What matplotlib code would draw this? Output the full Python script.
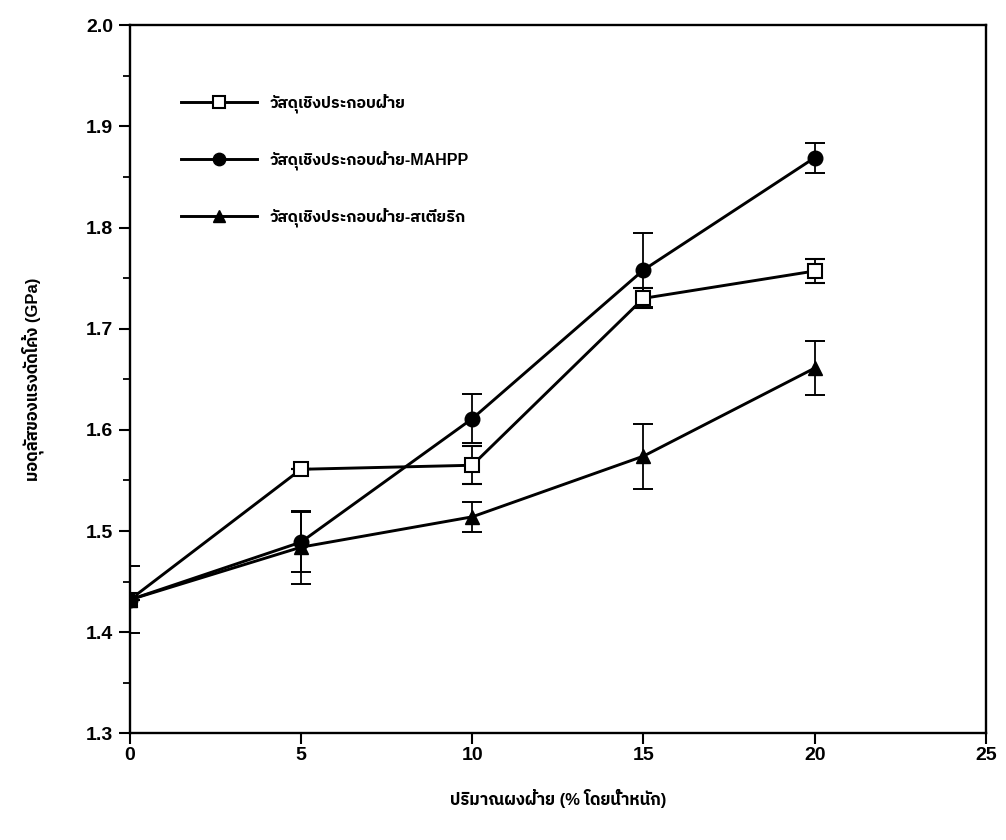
import matplotlib
matplotlib.use("Agg")
import matplotlib.pyplot as plt
from matplotlib import font_manager
from matplotlib.ticker import MultipleLocator, FormatStrFormatter
from fontTools.ttLib import TTFont

# fibre content (% by weight)
fibre = [0, 5, 10, 15, 20]

# flexural modulus (GPa) and standard deviations
plain = [1.432, 1.561, 1.565, 1.730, 1.757]
plain_err = [0.0, 0.0, 0.019, 0.010, 0.012]
mahpp = [1.432, 1.489, 1.611, 1.758, 1.869]
mahpp_err = [0.0, 0.030, 0.024, 0.037, 0.015]
stearic = [1.432, 1.484, 1.514, 1.574, 1.661]
stearic_err = [0.033, 0.036, 0.015, 0.032, 0.027]

labels = ["วัสดุเชิงประกอบฝ้าย",
          "วัสดุเชิงประกอบฝ้าย-MAHPP",
          "วัสดุเชิงประกอบฝ้าย-สเตียริก"]
x_label = "ปริมาณผงฝ้าย (% โดยน้ำหนัก)"
y_label = "มอดุลัสของแรงดัดโค้ง (GPa)"


def thai_family():
    # installed font carrying Thai glyphs: sans-serif first, then bold face
    found = []
    for f in font_manager.fontManager.ttflist:
        try:
            cmap = TTFont(f.fname, fontNumber=0, lazy=True).getBestCmap()
        except Exception:
            continue
        if cmap and ord("ว") in cmap and ord("ั") in cmap:
            name = f.name.lower()
            sans = "serif" not in name and "looped" not in name
            w = f.weight if isinstance(f.weight, int) else 400
            found.append((sans, "sans" in name, w >= 700, f.name))
    if not found:
        return None
    found.sort(reverse=True)
    return found[0][-1]


thai = thai_family()
fams = ["Liberation Sans"] + ([thai] if thai else []) + ["DejaVu Sans"]
plt.rcParams["font.family"] = fams
plt.rcParams["font.weight"] = "bold"
plt.rcParams["axes.labelweight"] = "bold"

fig = plt.figure(figsize=(10.06, 8.4), dpi=100)
ax = fig.add_axes([0.129, 0.127, 0.851, 0.843])

common = dict(color="black", lw=2.1, capsize=7, elinewidth=1.3, capthick=1.4)
c1 = ax.errorbar(fibre, plain, yerr=plain_err, marker="s", ms=9.5, mfc="white",
                 mec="black", mew=1.5, **common)
c2 = ax.errorbar(fibre, mahpp, yerr=mahpp_err, marker="o", ms=10.5, mfc="black",
                 mec="black", **common)
c3 = ax.errorbar(fibre, stearic, yerr=stearic_err, marker="^", ms=10.5,
                 mfc="black", mec="black", **common)

ax.set_xlim(0, 25)
ax.set_ylim(1.3, 2.0)
ax.xaxis.set_major_locator(MultipleLocator(5))
ax.yaxis.set_major_locator(MultipleLocator(0.1))
ax.yaxis.set_minor_locator(MultipleLocator(0.05))
ax.yaxis.set_major_formatter(FormatStrFormatter("%.1f"))
ax.tick_params(which="major", direction="out", length=8, width=1.5,
               labelsize=14, pad=4)
ax.tick_params(axis="x", which="major", pad=2)
ax.tick_params(which="minor", direction="out", length=5, width=1.3)
ax.tick_params(top=False, right=False)
for s in ax.spines.values():
    s.set_linewidth(1.7)

ax.set_xlabel(x_label, fontsize=12, labelpad=18)
ax.set_ylabel(y_label, fontsize=12, labelpad=30)

# legend shows the plain line + marker, without the error bars
ax.legend([c1.lines[0], c2.lines[0], c3.lines[0]], labels,
          loc="upper left", bbox_to_anchor=(0.052, 0.913), frameon=False,
          fontsize=11.5, handlelength=4.8, handletextpad=0.8,
          labelspacing=2.35, markerscale=0.85, borderaxespad=0)

fig.savefig("out.png", dpi=100)
